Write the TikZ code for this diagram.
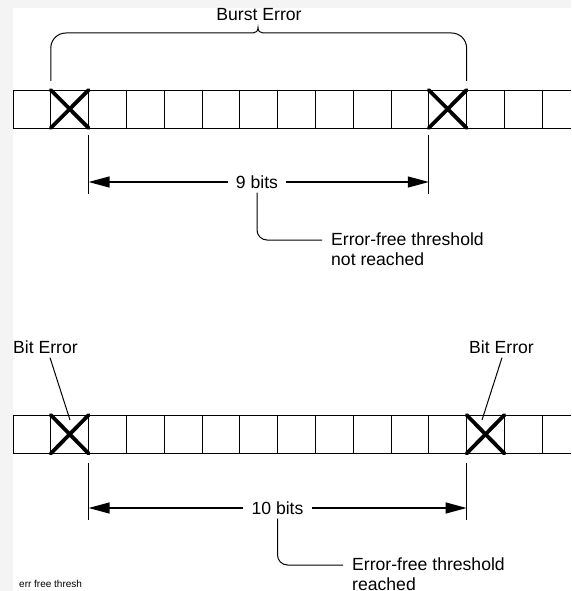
\documentclass[tikz,border=0pt]{standalone}
\usepackage{fontspec}
\setmainfont{Liberation Sans}
\usetikzlibrary{arrows.meta}
\definecolor{bggray}{RGB}{244,244,244}
\begin{document}
\begin{tikzpicture}[x=1pt,y=-1pt,
  cell/.style={line width=0.8pt},
  xmark/.style={line width=3.8pt,line cap=round},
  dim/.style={line width=1.3pt},
  arr/.style={dim,-{Triangle[length=21pt,width=11pt]}},
  lead/.style={line width=1pt},
  lbl/.style={font=\fontsize{17.6}{20}\selectfont,inner sep=0pt},
  dimlbl/.style={lbl,inner xsep=8pt,inner ysep=4pt},
  note/.style={lbl,align=left,anchor=north west}]
\fill[bggray] (0,0) rectangle (571,591);
\fill[white] (13,8) rectangle (571,591);
\useasboundingbox (0,0) rectangle (571,591);

% bit strips
\foreach \y/\h in {90/38,415/38.5} {
  \draw[cell] (13,\y) -- (571,\y);
  \draw[cell] (13,\y+\h) -- (571,\y+\h);
  \foreach \i in {0,...,14} \draw[cell] (13+37.8*\i,\y) -- ++(0,\h);
}
% X marks
\draw[xmark] (50.8,90) -- (88.6,128) (50.8,128) -- (88.6,90);
\draw[xmark] (428.8,90) -- (466.6,128) (428.8,128) -- (466.6,90);
\draw[xmark] (50.8,415) -- (88.6,453.5) (50.8,453.5) -- (88.6,415);
\draw[xmark] (466.6,415) -- (504.4,453.5) (466.6,453.5) -- (504.4,415);

% Burst error brace
\node[lbl] (burst) at (259,15) {Burst Error};
\coordinate (bl) at (50.8,81);
\coordinate (br) at (466.6,81);
\coordinate (nl) at (253,33);
\coordinate (nt) at (258,27.5);
\coordinate (nr) at (263,33);
\draw[lead,rounded corners=15pt] (bl) |- (nl);
\draw[lead] (nl) .. controls (256,33) and (258,31) .. (nt)
  .. controls (258,31) and (260,33) .. (nr);
\draw[lead,rounded corners=15pt] (nr) -| (br);

% top dimension
\coordinate (t1a) at (88.6,135); \coordinate (t1b) at (88.6,194);
\coordinate (t2a) at (428.8,135); \coordinate (t2b) at (428.8,194);
\draw[dim] (t1a) -- (t1b);
\draw[dim] (t2a) -- (t2b);
\node[dimlbl] (nine) at (257,182) {9 bits};
\draw[arr] (nine.west) -- (nine.west -| t1a);
\draw[arr] (nine.east) -- (nine.east -| t2a);
\coordinate (le1) at (322,240);
\draw[lead,rounded corners=10pt] (nine.south) |- (le1);
\node[note] (thr1) at (331,233) {Error-free threshold\\not reached};

% bit error labels
\node[lbl] (be1) at (45.5,347) {Bit Error};
\node[lbl] (be2) at (501.5,347) {Bit Error};
\coordinate (bx1) at (70,420);
\coordinate (bx2) at (482,420);
\draw[lead] ([xshift=4.5pt,yshift=-4pt]be1.south) -- (bx1);
\draw[lead] ([xshift=0.5pt,yshift=-4pt]be2.south) -- (bx2);

% bottom dimension
\coordinate (b1a) at (88.6,463); \coordinate (b1b) at (88.6,520);
\coordinate (b2a) at (466.6,463); \coordinate (b2b) at (466.6,520);
\draw[dim] (b1a) -- (b1b);
\draw[dim] (b2a) -- (b2b);
\node[dimlbl] (ten) at (277.5,508) {10 bits};
\draw[arr] (ten.west) -- (ten.west -| b1a);
\draw[arr] (ten.east) -- (ten.east -| b2a);
\coordinate (le2) at (343,565);
\draw[lead,rounded corners=10pt] (ten.south) |- (le2);
\node[note] (thr2) at (352,558) {Error-free threshold\\reached};

\node[anchor=west,inner sep=0pt,font=\fontsize{10}{11}\selectfont] (tag) at (19,584) {err free thresh};
\end{tikzpicture}
\end{document}
